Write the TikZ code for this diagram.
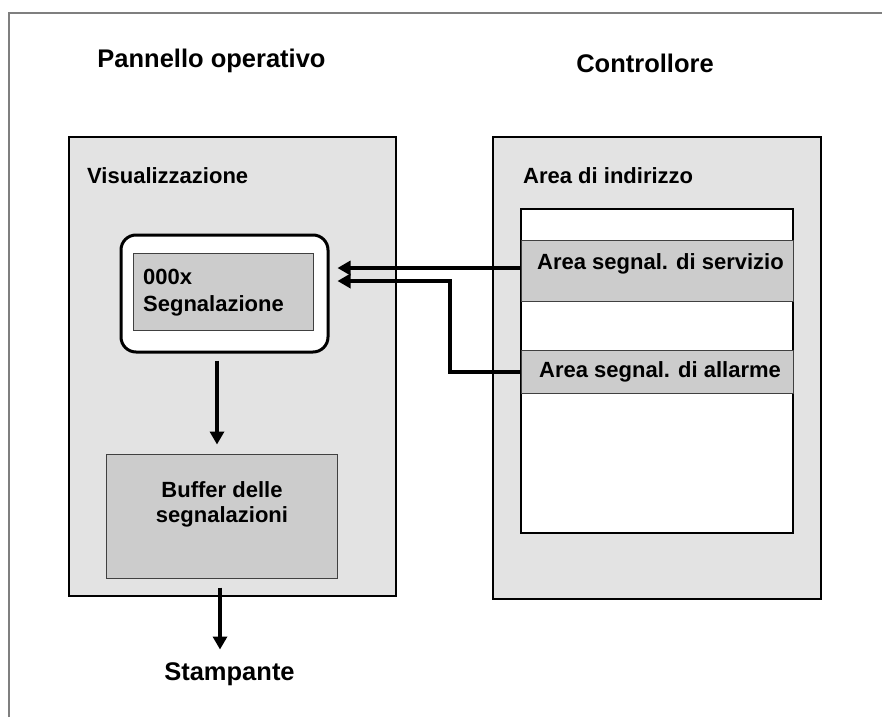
\documentclass[tikz,border=0pt]{standalone}
\usepackage{fontspec}
\setmainfont{Liberation Sans}
\usetikzlibrary{arrows.meta}
\definecolor{panelgray}{HTML}{E3E3E3}
\definecolor{boxgray}{HTML}{CCCCCC}
\definecolor{framegray}{HTML}{7F7F7F}
\definecolor{edgegray}{HTML}{404040}
\tikzset{
  panel/.style={draw=black, line width=1.8pt, fill=panelgray, inner sep=0pt},
  greybox/.style={draw=edgegray, line width=1pt, fill=boxgray, inner sep=0pt},
  whitebox/.style={draw=black, line width=1.2pt, fill=white, inner sep=0pt},
  title/.style={font=\fontsize{25.5}{30}\selectfont\bfseries, inner sep=0pt},
  lbl/.style={font=\fontsize{22}{27}\selectfont\bfseries, inner sep=0pt},
  arr/.style={line width=4pt, -{Triangle[length=13pt,width=14pt]}},
}
\begin{document}
\begin{tikzpicture}[x=1pt,y=-1pt]
  \useasboundingbox (0,0) rectangle (882,717);
  % outer page frame (top and left edges)
  \draw[framegray, line width=1.5pt] (9,717) -- (9,13) -- (882,13);

  % headings
  \node[title, anchor=base] (hpanel) at (211.5,67) {Pannello operativo};
  \node[title, anchor=base] (hctrl) at (645,72) {Controllore};

  % operator panel
  \node[panel, minimum width=327pt, minimum height=459pt] (panelL) at (232.5,366.5) {};
  \node[lbl, anchor=base west] (vis) at (87,183) {Visualizzazione};
  \node[draw=black, line width=3pt, fill=white, rounded corners=15pt,
        minimum width=207pt, minimum height=117pt] (round) at (224.5,293.5) {};
  \node[greybox, minimum width=180pt, minimum height=77pt] (msg) at (223,291.5) {};
  % multi-line labels: the base anchor sits on the last line
  \node[lbl, anchor=base west, align=left] (msgtxt) at (143,311) {000x\\Segnalazione};
  \node[greybox, minimum width=231pt, minimum height=124pt] (buffer) at (221.5,516) {};
  \node[lbl, anchor=base, align=center, font=\fontsize{22}{25}\selectfont\bfseries] (buftxt) at (222,522) {Buffer delle\\segnalazioni};
  \node[title, anchor=base] (stamp) at (229.5,680) {Stampante};

  % controller
  \node[panel, minimum width=328pt, minimum height=462pt] (panelR) at (657,368) {};
  \node[lbl, anchor=base west] (addrtxt) at (523,183) {Area di indirizzo};
  \node[whitebox, minimum width=272pt, minimum height=324pt] (addr) at (657,371) {};
  \node[greybox, minimum width=272pt, minimum height=61pt] (service) at (657,270.5) {};
  \node[lbl, anchor=base west] (servtxt) at (537,269) {Area segnal. di servizio};
  \node[greybox, minimum width=272pt, minimum height=43pt] (alarm) at (657,371.5) {};
  \node[lbl, anchor=base west] (alarmtxt) at (539,377) {Area segnal. di allarme};

  % signal flow
  \draw[arr] ([yshift=2.5pt]service.west) -- ([xshift=8pt,yshift=25.5pt]round.east);
  \draw[arr] (alarm.west) -- ++(-71,0) |- ([xshift=8pt,yshift=12.5pt]round.east);
  \draw[arr] ([xshift=-7.5pt,yshift=-7pt]round.south) -- ++(0,84);
  \draw[arr] ([xshift=-1.5pt,yshift=-9pt]buffer.south) -- ++(0,62);
\end{tikzpicture}
\end{document}
